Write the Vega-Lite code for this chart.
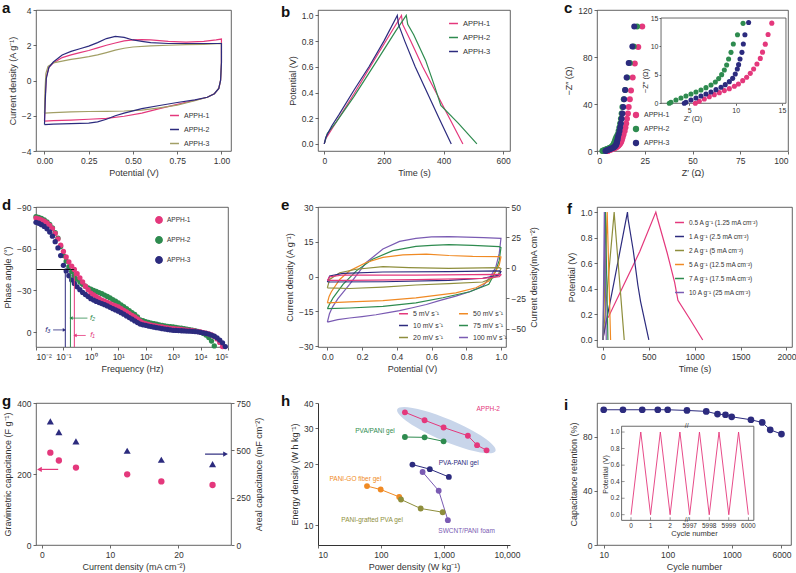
{
"$schema": "https://vega.github.io/schema/vega-lite/v6.json",
"background": "white",
"padding": {"left": 1, "top": 0, "right": 0, "bottom": 0},
"config": {
  "font": "Liberation Sans",
  "view": {"stroke": "#3c3c3c", "strokeWidth": 0.8},
  "axis": {"grid": false, "domain": false, "labelOverlap": false, "labelFontSize": 8.5, "titleFontSize": 9, "titleFontWeight": "normal", "labelColor": "#333", "titleColor": "#333", "tickColor": "#444", "tickSize": 3, "tickWidth": 0.8, "labelPadding": 2, "titlePadding": 4},
  "legend": {"labelFontSize": 7, "labelColor": "#333", "padding": 0, "rowPadding": 5, "labelOffset": 4, "symbolStrokeWidth": 1.5},
  "title": {"fontSize": 15, "fontWeight": "bold", "anchor": "start", "frame": "group", "color": "#111", "baseline": "alphabetic"}
},
"datasets": {
"a": [
{"s":"APPH-1","o":1,"v":0,"j":-2.3},{"s":"APPH-1","o":2,"v":0.004,"j":-1.0},{"s":"APPH-1","o":3,"v":0.01,"j":0.2},{"s":"APPH-1","o":4,"v":0.025,"j":0.75},{"s":"APPH-1","o":5,"v":0.05,"j":1.0},{"s":"APPH-1","o":6,"v":0.1,"j":1.3},{"s":"APPH-1","o":7,"v":0.15,"j":1.45},{"s":"APPH-1","o":8,"v":0.2,"j":1.58},{"s":"APPH-1","o":9,"v":0.25,"j":1.7},{"s":"APPH-1","o":10,"v":0.3,"j":1.85},{"s":"APPH-1","o":11,"v":0.35,"j":2.0},{"s":"APPH-1","o":12,"v":0.4,"j":2.13},{"s":"APPH-1","o":13,"v":0.45,"j":2.25},{"s":"APPH-1","o":14,"v":0.5,"j":2.3},{"s":"APPH-1","o":15,"v":0.55,"j":2.32},{"s":"APPH-1","o":16,"v":0.6,"j":2.3},{"s":"APPH-1","o":17,"v":0.7,"j":2.22},{"s":"APPH-1","o":18,"v":0.8,"j":2.18},{"s":"APPH-1","o":19,"v":0.9,"j":2.22},{"s":"APPH-1","o":20,"v":0.97,"j":2.3},{"s":"APPH-1","o":21,"v":1.0,"j":2.35},{"s":"APPH-1","o":22,"v":1.0,"j":1.0},{"s":"APPH-1","o":23,"v":0.995,"j":0},{"s":"APPH-1","o":24,"v":0.985,"j":-0.45},{"s":"APPH-1","o":25,"v":0.96,"j":-0.75},{"s":"APPH-1","o":26,"v":0.92,"j":-0.95},{"s":"APPH-1","o":27,"v":0.85,"j":-1.12},{"s":"APPH-1","o":28,"v":0.75,"j":-1.35},{"s":"APPH-1","o":29,"v":0.65,"j":-1.6},{"s":"APPH-1","o":30,"v":0.55,"j":-1.85},{"s":"APPH-1","o":31,"v":0.45,"j":-2.03},{"s":"APPH-1","o":32,"v":0.35,"j":-2.15},{"s":"APPH-1","o":33,"v":0.25,"j":-2.2},{"s":"APPH-1","o":34,"v":0.15,"j":-2.25},{"s":"APPH-1","o":35,"v":0.05,"j":-2.28},{"s":"APPH-1","o":36,"v":0,"j":-2.3},
{"s":"APPH-3","o":1,"v":0,"j":-1.85},{"s":"APPH-3","o":2,"v":0.003,"j":-0.5},{"s":"APPH-3","o":3,"v":0.008,"j":0.4},{"s":"APPH-3","o":4,"v":0.02,"j":0.8},{"s":"APPH-3","o":5,"v":0.05,"j":1.0},{"s":"APPH-3","o":6,"v":0.1,"j":1.1},{"s":"APPH-3","o":7,"v":0.15,"j":1.2},{"s":"APPH-3","o":8,"v":0.2,"j":1.27},{"s":"APPH-3","o":9,"v":0.25,"j":1.35},{"s":"APPH-3","o":10,"v":0.3,"j":1.45},{"s":"APPH-3","o":11,"v":0.35,"j":1.58},{"s":"APPH-3","o":12,"v":0.4,"j":1.72},{"s":"APPH-3","o":13,"v":0.45,"j":1.83},{"s":"APPH-3","o":14,"v":0.5,"j":1.9},{"s":"APPH-3","o":15,"v":0.6,"j":1.97},{"s":"APPH-3","o":16,"v":0.7,"j":2.0},{"s":"APPH-3","o":17,"v":0.8,"j":2.03},{"s":"APPH-3","o":18,"v":0.9,"j":2.05},{"s":"APPH-3","o":19,"v":1.0,"j":2.1},{"s":"APPH-3","o":20,"v":1.0,"j":1.0},{"s":"APPH-3","o":21,"v":0.995,"j":0},{"s":"APPH-3","o":22,"v":0.985,"j":-0.45},{"s":"APPH-3","o":23,"v":0.96,"j":-0.75},{"s":"APPH-3","o":24,"v":0.92,"j":-0.95},{"s":"APPH-3","o":25,"v":0.85,"j":-1.15},{"s":"APPH-3","o":26,"v":0.75,"j":-1.4},{"s":"APPH-3","o":27,"v":0.65,"j":-1.55},{"s":"APPH-3","o":28,"v":0.55,"j":-1.68},{"s":"APPH-3","o":29,"v":0.45,"j":-1.73},{"s":"APPH-3","o":30,"v":0.35,"j":-1.75},{"s":"APPH-3","o":31,"v":0.25,"j":-1.76},{"s":"APPH-3","o":32,"v":0.15,"j":-1.78},{"s":"APPH-3","o":33,"v":0.05,"j":-1.82},{"s":"APPH-3","o":34,"v":0,"j":-1.85},
{"s":"APPH-2","o":1,"v":0,"j":-2.5},{"s":"APPH-2","o":2,"v":0.004,"j":-1.2},{"s":"APPH-2","o":3,"v":0.01,"j":0.1},{"s":"APPH-2","o":4,"v":0.025,"j":0.75},{"s":"APPH-2","o":5,"v":0.05,"j":1.05},{"s":"APPH-2","o":6,"v":0.1,"j":1.45},{"s":"APPH-2","o":7,"v":0.15,"j":1.65},{"s":"APPH-2","o":8,"v":0.2,"j":1.8},{"s":"APPH-2","o":9,"v":0.25,"j":1.95},{"s":"APPH-2","o":10,"v":0.3,"j":2.15},{"s":"APPH-2","o":11,"v":0.35,"j":2.38},{"s":"APPH-2","o":12,"v":0.4,"j":2.5},{"s":"APPH-2","o":13,"v":0.45,"j":2.45},{"s":"APPH-2","o":14,"v":0.5,"j":2.3},{"s":"APPH-2","o":15,"v":0.55,"j":2.22},{"s":"APPH-2","o":16,"v":0.6,"j":2.15},{"s":"APPH-2","o":17,"v":0.7,"j":2.1},{"s":"APPH-2","o":18,"v":0.8,"j":2.1},{"s":"APPH-2","o":19,"v":0.9,"j":2.1},{"s":"APPH-2","o":20,"v":1.0,"j":2.1},{"s":"APPH-2","o":21,"v":1.0,"j":1.0},{"s":"APPH-2","o":22,"v":0.995,"j":0},{"s":"APPH-2","o":23,"v":0.985,"j":-0.45},{"s":"APPH-2","o":24,"v":0.96,"j":-0.75},{"s":"APPH-2","o":25,"v":0.92,"j":-0.95},{"s":"APPH-2","o":26,"v":0.85,"j":-1.1},{"s":"APPH-2","o":27,"v":0.75,"j":-1.25},{"s":"APPH-2","o":28,"v":0.65,"j":-1.42},{"s":"APPH-2","o":29,"v":0.55,"j":-1.6},{"s":"APPH-2","o":30,"v":0.45,"j":-1.85},{"s":"APPH-2","o":31,"v":0.4,"j":-2.0},{"s":"APPH-2","o":32,"v":0.35,"j":-2.2},{"s":"APPH-2","o":33,"v":0.3,"j":-2.35},{"s":"APPH-2","o":34,"v":0.25,"j":-2.42},{"s":"APPH-2","o":35,"v":0.15,"j":-2.45},{"s":"APPH-2","o":36,"v":0.05,"j":-2.48},{"s":"APPH-2","o":37,"v":0,"j":-2.5}
],
"b": [
{"s":"APPH-1","o":1,"t":0,"v":0},{"s":"APPH-1","o":2,"t":5,"v":0.04},{"s":"APPH-1","o":3,"t":100,"v":0.39},{"s":"APPH-1","o":4,"t":180,"v":0.7},{"s":"APPH-1","o":5,"t":259,"v":1.0},{"s":"APPH-1","o":6,"t":263,"v":0.93},{"s":"APPH-1","o":7,"t":290,"v":0.8},{"s":"APPH-1","o":8,"t":330,"v":0.6},{"s":"APPH-1","o":9,"t":375,"v":0.4},{"s":"APPH-1","o":10,"t":420,"v":0.2},{"s":"APPH-1","o":11,"t":465,"v":0},
{"s":"APPH-2","o":1,"t":0,"v":0},{"s":"APPH-2","o":2,"t":10,"v":0.08},{"s":"APPH-2","o":3,"t":40,"v":0.17},{"s":"APPH-2","o":4,"t":100,"v":0.37},{"s":"APPH-2","o":5,"t":180,"v":0.66},{"s":"APPH-2","o":6,"t":240,"v":0.88},{"s":"APPH-2","o":7,"t":275,"v":1.0},{"s":"APPH-2","o":8,"t":280,"v":0.93},{"s":"APPH-2","o":9,"t":300,"v":0.85},{"s":"APPH-2","o":10,"t":340,"v":0.65},{"s":"APPH-2","o":11,"t":370,"v":0.45},{"s":"APPH-2","o":12,"t":391,"v":0.3},{"s":"APPH-2","o":13,"t":450,"v":0.16},{"s":"APPH-2","o":14,"t":512,"v":0},
{"s":"APPH-3","o":1,"t":0,"v":0},{"s":"APPH-3","o":2,"t":5,"v":0.05},{"s":"APPH-3","o":3,"t":25,"v":0.14},{"s":"APPH-3","o":4,"t":50,"v":0.23},{"s":"APPH-3","o":5,"t":100,"v":0.42},{"s":"APPH-3","o":6,"t":150,"v":0.6},{"s":"APPH-3","o":7,"t":200,"v":0.8},{"s":"APPH-3","o":8,"t":245,"v":1.0},{"s":"APPH-3","o":9,"t":249,"v":0.93},{"s":"APPH-3","o":10,"t":270,"v":0.8},{"s":"APPH-3","o":11,"t":305,"v":0.6},{"s":"APPH-3","o":12,"t":345,"v":0.4},{"s":"APPH-3","o":13,"t":385,"v":0.2},{"s":"APPH-3","o":14,"t":426,"v":0}
],
"c": [
{"s":"APPH-1","x":5.65,"y":0},{"s":"APPH-1","x":6.08,"y":0.35},{"s":"APPH-1","x":6.62,"y":0.76},{"s":"APPH-1","x":7.16,"y":1.17},{"s":"APPH-1","x":7.7,"y":1.52},{"s":"APPH-1","x":8.24,"y":1.87},{"s":"APPH-1","x":8.78,"y":2.23},{"s":"APPH-1","x":9.32,"y":2.58},{"s":"APPH-1","x":9.86,"y":2.99},{"s":"APPH-1","x":10.3,"y":3.4},{"s":"APPH-1","x":10.76,"y":3.98},{"s":"APPH-1","x":11.19,"y":4.57},{"s":"APPH-1","x":11.58,"y":5.27},{"s":"APPH-1","x":11.94,"y":6.03},{"s":"APPH-1","x":12.3,"y":6.9},{"s":"APPH-1","x":12.66,"y":7.9},{"s":"APPH-1","x":12.9,"y":9.0},{"s":"APPH-1","x":13.2,"y":10.4},{"s":"APPH-1","x":13.5,"y":12.1},{"s":"APPH-1","x":13.9,"y":14.1},{"s":"APPH-1","x":14.5,"y":17},{"s":"APPH-1","x":14.9,"y":20},{"s":"APPH-1","x":15.3,"y":23.5},{"s":"APPH-1","x":15.7,"y":27.5},{"s":"APPH-1","x":16.2,"y":32},{"s":"APPH-1","x":16.6,"y":37.5},{"s":"APPH-1","x":17.2,"y":44},{"s":"APPH-1","x":17.8,"y":51.5},{"s":"APPH-1","x":18.7,"y":62.5},{"s":"APPH-1","x":19.8,"y":74.5},{"s":"APPH-1","x":21.6,"y":88.5},{"s":"APPH-1","x":23.7,"y":106},
{"s":"APPH-2","x":2.84,"y":0},{"s":"APPH-2","x":3.02,"y":0.18},{"s":"APPH-2","x":3.56,"y":0.59},{"s":"APPH-2","x":4.1,"y":0.94},{"s":"APPH-2","x":4.64,"y":1.29},{"s":"APPH-2","x":5.18,"y":1.64},{"s":"APPH-2","x":5.72,"y":1.99},{"s":"APPH-2","x":6.26,"y":2.34},{"s":"APPH-2","x":6.8,"y":2.75},{"s":"APPH-2","x":7.34,"y":3.22},{"s":"APPH-2","x":7.81,"y":3.75},{"s":"APPH-2","x":8.17,"y":4.34},{"s":"APPH-2","x":8.49,"y":5.04},{"s":"APPH-2","x":8.78,"y":5.86},{"s":"APPH-2","x":9.03,"y":6.74},{"s":"APPH-2","x":9.24,"y":7.79},{"s":"APPH-2","x":9.5,"y":8.96},{"s":"APPH-2","x":9.75,"y":10.43},{"s":"APPH-2","x":10.2,"y":12.07},{"s":"APPH-2","x":10.8,"y":14.06},{"s":"APPH-2","x":11.3,"y":17},{"s":"APPH-2","x":11.7,"y":20},{"s":"APPH-2","x":12.1,"y":23.5},{"s":"APPH-2","x":12.5,"y":27.5},{"s":"APPH-2","x":12.9,"y":32},{"s":"APPH-2","x":13.3,"y":37.5},{"s":"APPH-2","x":14.0,"y":44},{"s":"APPH-2","x":14.8,"y":52},{"s":"APPH-2","x":15.8,"y":62.5},{"s":"APPH-2","x":17.2,"y":75},{"s":"APPH-2","x":19.2,"y":89},{"s":"APPH-2","x":21.0,"y":106},
{"s":"APPH-3","x":4.46,"y":0},{"s":"APPH-3","x":4.64,"y":0.18},{"s":"APPH-3","x":5.18,"y":0.59},{"s":"APPH-3","x":5.72,"y":0.94},{"s":"APPH-3","x":6.26,"y":1.29},{"s":"APPH-3","x":6.8,"y":1.64},{"s":"APPH-3","x":7.34,"y":1.99},{"s":"APPH-3","x":7.88,"y":2.4},{"s":"APPH-3","x":8.42,"y":2.81},{"s":"APPH-3","x":8.88,"y":3.28},{"s":"APPH-3","x":9.32,"y":3.81},{"s":"APPH-3","x":9.68,"y":4.39},{"s":"APPH-3","x":9.96,"y":5.16},{"s":"APPH-3","x":10.18,"y":6.03},{"s":"APPH-3","x":10.32,"y":6.8},{"s":"APPH-3","x":10.47,"y":7.79},{"s":"APPH-3","x":10.68,"y":8.96},{"s":"APPH-3","x":10.83,"y":10.43},{"s":"APPH-3","x":11.0,"y":12.07},{"s":"APPH-3","x":11.4,"y":14.2},{"s":"APPH-3","x":11.8,"y":17},{"s":"APPH-3","x":12.1,"y":20},{"s":"APPH-3","x":12.5,"y":23.5},{"s":"APPH-3","x":12.9,"y":27.5},{"s":"APPH-3","x":13.3,"y":32},{"s":"APPH-3","x":13.7,"y":37.5},{"s":"APPH-3","x":14.2,"y":44},{"s":"APPH-3","x":14.7,"y":52},{"s":"APPH-3","x":15.5,"y":62.5},{"s":"APPH-3","x":16.6,"y":75},{"s":"APPH-3","x":18.5,"y":89},{"s":"APPH-3","x":19.5,"y":106}
],
"d": [
{"s":"APPH-2","f":0.01,"p":-83},{"s":"APPH-2","f":0.0126,"p":-82.5},{"s":"APPH-2","f":0.0158,"p":-81.8},{"s":"APPH-2","f":0.02,"p":-80.8},{"s":"APPH-2","f":0.0251,"p":-79.3},{"s":"APPH-2","f":0.0316,"p":-77.5},{"s":"APPH-2","f":0.0398,"p":-75},{"s":"APPH-2","f":0.0501,"p":-71.5},{"s":"APPH-2","f":0.0631,"p":-67.5},{"s":"APPH-2","f":0.0794,"p":-61.5},{"s":"APPH-2","f":0.1,"p":-55},{"s":"APPH-2","f":0.126,"p":-51},{"s":"APPH-2","f":0.158,"p":-47},{"s":"APPH-2","f":0.2,"p":-43.5},{"s":"APPH-2","f":0.251,"p":-40.5},{"s":"APPH-2","f":0.316,"p":-38},{"s":"APPH-2","f":0.398,"p":-36},{"s":"APPH-2","f":0.501,"p":-34.3},{"s":"APPH-2","f":0.631,"p":-33},{"s":"APPH-2","f":0.794,"p":-31.8},{"s":"APPH-2","f":1,"p":-30.8},{"s":"APPH-2","f":1.26,"p":-30},{"s":"APPH-2","f":1.58,"p":-29.2},{"s":"APPH-2","f":2,"p":-28.4},{"s":"APPH-2","f":2.51,"p":-27.6},{"s":"APPH-2","f":3.16,"p":-26.6},{"s":"APPH-2","f":3.98,"p":-25.6},{"s":"APPH-2","f":5.01,"p":-24.5},{"s":"APPH-2","f":6.31,"p":-23.3},{"s":"APPH-2","f":7.94,"p":-22.2},{"s":"APPH-2","f":10,"p":-21},{"s":"APPH-2","f":12.6,"p":-19.6},{"s":"APPH-2","f":15.8,"p":-18.2},{"s":"APPH-2","f":20,"p":-16.8},{"s":"APPH-2","f":25.1,"p":-15.4},{"s":"APPH-2","f":31.6,"p":-14},{"s":"APPH-2","f":39.8,"p":-12.6},{"s":"APPH-2","f":50.1,"p":-10.8},{"s":"APPH-2","f":63.1,"p":-8.8},{"s":"APPH-2","f":79.4,"p":-8.1},{"s":"APPH-2","f":100,"p":-7.5},{"s":"APPH-2","f":126,"p":-6.9},{"s":"APPH-2","f":158,"p":-6.4},{"s":"APPH-2","f":200,"p":-6},{"s":"APPH-2","f":251,"p":-5.6},{"s":"APPH-2","f":316,"p":-5.2},{"s":"APPH-2","f":398,"p":-4.8},{"s":"APPH-2","f":501,"p":-4.4},{"s":"APPH-2","f":631,"p":-4.1},{"s":"APPH-2","f":794,"p":-3.8},{"s":"APPH-2","f":1000,"p":-3.6},{"s":"APPH-2","f":1260,"p":-3.3},{"s":"APPH-2","f":1580,"p":-3},{"s":"APPH-2","f":2000,"p":-2.7},{"s":"APPH-2","f":2510,"p":-2.4},{"s":"APPH-2","f":3160,"p":-2.1},{"s":"APPH-2","f":3980,"p":-1.7},{"s":"APPH-2","f":5010,"p":-1.3},{"s":"APPH-2","f":6310,"p":-0.9},{"s":"APPH-2","f":7940,"p":-0.4},{"s":"APPH-2","f":10000,"p":0.2},{"s":"APPH-2","f":12600,"p":1},{"s":"APPH-2","f":15800,"p":2.2},{"s":"APPH-2","f":20000,"p":4},{"s":"APPH-2","f":25100,"p":6.5},{"s":"APPH-2","f":31600,"p":10},
{"s":"APPH-1","f":0.01,"p":-82},{"s":"APPH-1","f":0.0126,"p":-81.5},{"s":"APPH-1","f":0.0158,"p":-80.8},{"s":"APPH-1","f":0.02,"p":-79.8},{"s":"APPH-1","f":0.0251,"p":-78.5},{"s":"APPH-1","f":0.0316,"p":-76.8},{"s":"APPH-1","f":0.0398,"p":-74.5},{"s":"APPH-1","f":0.0501,"p":-71},{"s":"APPH-1","f":0.0631,"p":-67},{"s":"APPH-1","f":0.0794,"p":-62.5},{"s":"APPH-1","f":0.1,"p":-58},{"s":"APPH-1","f":0.126,"p":-54},{"s":"APPH-1","f":0.158,"p":-50.5},{"s":"APPH-1","f":0.2,"p":-47.5},{"s":"APPH-1","f":0.251,"p":-45},{"s":"APPH-1","f":0.316,"p":-42},{"s":"APPH-1","f":0.398,"p":-39},{"s":"APPH-1","f":0.501,"p":-36},{"s":"APPH-1","f":0.631,"p":-33},{"s":"APPH-1","f":0.794,"p":-30.5},{"s":"APPH-1","f":1,"p":-28},{"s":"APPH-1","f":1.26,"p":-26.8},{"s":"APPH-1","f":1.58,"p":-25.5},{"s":"APPH-1","f":2,"p":-24.2},{"s":"APPH-1","f":2.51,"p":-23},{"s":"APPH-1","f":3.16,"p":-22.2},{"s":"APPH-1","f":3.98,"p":-21.4},{"s":"APPH-1","f":5.01,"p":-20.5},{"s":"APPH-1","f":6.31,"p":-19.6},{"s":"APPH-1","f":7.94,"p":-18.8},{"s":"APPH-1","f":10,"p":-18},{"s":"APPH-1","f":12.6,"p":-16.8},{"s":"APPH-1","f":15.8,"p":-15.6},{"s":"APPH-1","f":20,"p":-14.4},{"s":"APPH-1","f":25.1,"p":-13.2},{"s":"APPH-1","f":31.6,"p":-12},{"s":"APPH-1","f":39.8,"p":-10.8},{"s":"APPH-1","f":50.1,"p":-9.4},{"s":"APPH-1","f":63.1,"p":-7.8},{"s":"APPH-1","f":79.4,"p":-6.6},{"s":"APPH-1","f":100,"p":-6},{"s":"APPH-1","f":126,"p":-5.5},{"s":"APPH-1","f":158,"p":-5},{"s":"APPH-1","f":200,"p":-4.6},{"s":"APPH-1","f":251,"p":-4.2},{"s":"APPH-1","f":316,"p":-3.9},{"s":"APPH-1","f":398,"p":-3.6},{"s":"APPH-1","f":501,"p":-3.2},{"s":"APPH-1","f":631,"p":-2.9},{"s":"APPH-1","f":794,"p":-2.6},{"s":"APPH-1","f":1000,"p":-2.4},{"s":"APPH-1","f":1260,"p":-2.2},{"s":"APPH-1","f":1580,"p":-2},{"s":"APPH-1","f":2000,"p":-1.8},{"s":"APPH-1","f":2510,"p":-1.6},{"s":"APPH-1","f":3160,"p":-1.4},{"s":"APPH-1","f":3980,"p":-1.1},{"s":"APPH-1","f":5010,"p":-0.9},{"s":"APPH-1","f":6310,"p":-0.6},{"s":"APPH-1","f":7940,"p":-0.3},{"s":"APPH-1","f":10000,"p":0},{"s":"APPH-1","f":12600,"p":0.4},{"s":"APPH-1","f":15800,"p":0.9},{"s":"APPH-1","f":20000,"p":1.4},{"s":"APPH-1","f":25100,"p":2},{"s":"APPH-1","f":31600,"p":3.2},{"s":"APPH-1","f":39800,"p":5},{"s":"APPH-1","f":50100,"p":7.5},{"s":"APPH-1","f":63100,"p":10.5},
{"s":"APPH-3","f":0.01,"p":-79},{"s":"APPH-3","f":0.0126,"p":-78.3},{"s":"APPH-3","f":0.0158,"p":-77.3},{"s":"APPH-3","f":0.02,"p":-76},{"s":"APPH-3","f":0.0251,"p":-74.3},{"s":"APPH-3","f":0.0316,"p":-72},{"s":"APPH-3","f":0.0398,"p":-69},{"s":"APPH-3","f":0.0501,"p":-65},{"s":"APPH-3","f":0.0631,"p":-60.5},{"s":"APPH-3","f":0.0794,"p":-55},{"s":"APPH-3","f":0.1,"p":-48},{"s":"APPH-3","f":0.126,"p":-44},{"s":"APPH-3","f":0.158,"p":-40.5},{"s":"APPH-3","f":0.2,"p":-37.5},{"s":"APPH-3","f":0.251,"p":-35},{"s":"APPH-3","f":0.316,"p":-32.5},{"s":"APPH-3","f":0.398,"p":-30.5},{"s":"APPH-3","f":0.501,"p":-28.5},{"s":"APPH-3","f":0.631,"p":-27},{"s":"APPH-3","f":0.794,"p":-25.5},{"s":"APPH-3","f":1,"p":-24},{"s":"APPH-3","f":1.26,"p":-23},{"s":"APPH-3","f":1.58,"p":-22},{"s":"APPH-3","f":2,"p":-21.2},{"s":"APPH-3","f":2.51,"p":-20.5},{"s":"APPH-3","f":3.16,"p":-19.7},{"s":"APPH-3","f":3.98,"p":-18.8},{"s":"APPH-3","f":5.01,"p":-17.8},{"s":"APPH-3","f":6.31,"p":-16.8},{"s":"APPH-3","f":7.94,"p":-15.9},{"s":"APPH-3","f":10,"p":-15},{"s":"APPH-3","f":12.6,"p":-13.9},{"s":"APPH-3","f":15.8,"p":-12.8},{"s":"APPH-3","f":20,"p":-11.6},{"s":"APPH-3","f":25.1,"p":-10.4},{"s":"APPH-3","f":31.6,"p":-9.2},{"s":"APPH-3","f":39.8,"p":-8},{"s":"APPH-3","f":50.1,"p":-6.8},{"s":"APPH-3","f":63.1,"p":-5.7},{"s":"APPH-3","f":79.4,"p":-5.2},{"s":"APPH-3","f":100,"p":-4.8},{"s":"APPH-3","f":126,"p":-4.3},{"s":"APPH-3","f":158,"p":-3.9},{"s":"APPH-3","f":200,"p":-3.5},{"s":"APPH-3","f":251,"p":-3.1},{"s":"APPH-3","f":316,"p":-2.8},{"s":"APPH-3","f":398,"p":-2.4},{"s":"APPH-3","f":501,"p":-2.1},{"s":"APPH-3","f":631,"p":-1.8},{"s":"APPH-3","f":794,"p":-1.5},{"s":"APPH-3","f":1000,"p":-1.2},{"s":"APPH-3","f":1260,"p":-1.1},{"s":"APPH-3","f":1580,"p":-1},{"s":"APPH-3","f":2000,"p":-0.9},{"s":"APPH-3","f":2510,"p":-0.8},{"s":"APPH-3","f":3160,"p":-0.7},{"s":"APPH-3","f":3980,"p":-0.6},{"s":"APPH-3","f":5010,"p":-0.5},{"s":"APPH-3","f":6310,"p":-0.3},{"s":"APPH-3","f":7940,"p":-0.1},{"s":"APPH-3","f":10000,"p":0.2},{"s":"APPH-3","f":12600,"p":0.6},{"s":"APPH-3","f":15800,"p":1},{"s":"APPH-3","f":20000,"p":1.5},{"s":"APPH-3","f":25100,"p":2.2},{"s":"APPH-3","f":31600,"p":3},{"s":"APPH-3","f":39800,"p":4.2},{"s":"APPH-3","f":50100,"p":5.8},{"s":"APPH-3","f":63100,"p":7.8},{"s":"APPH-3","f":79400,"p":10.5}
],
"dv": [
{"s":"APPH-3","f":0.117,"p1":-45,"p2":10.8},{"s":"APPH-2","f":0.18,"p1":-45,"p2":10.8},{"s":"APPH-1","f":0.25,"p1":-45,"p2":10.8}
],
"da": [
{"s":"APPH-3","t":"f₃","fl":0.027,"f1":0.042,"f2":0.108,"p":-1.5},
{"s":"APPH-2","t":"f₂","fl":1.15,"f1":0.75,"f2":0.19,"p":-10},
{"s":"APPH-1","t":"f₁","fl":1.15,"f1":0.65,"f2":0.265,"p":2.5}
],
"e": [
{"s":"100 mV s⁻¹","o":1,"v":0,"j":-19.6},{"s":"100 mV s⁻¹","o":2,"v":0.012,"j":-16},{"s":"100 mV s⁻¹","o":3,"v":0.03,"j":-13},{"s":"100 mV s⁻¹","o":4,"v":0.061,"j":-9.5},{"s":"100 mV s⁻¹","o":5,"v":0.128,"j":-3.3},{"s":"100 mV s⁻¹","o":6,"v":0.224,"j":6.1},{"s":"100 mV s⁻¹","o":7,"v":0.32,"j":11.9},{"s":"100 mV s⁻¹","o":8,"v":0.416,"j":15.2},{"s":"100 mV s⁻¹","o":9,"v":0.51,"j":16.5},{"s":"100 mV s⁻¹","o":10,"v":0.6,"j":17.1},{"s":"100 mV s⁻¹","o":11,"v":0.7,"j":17.2},{"s":"100 mV s⁻¹","o":12,"v":0.8,"j":17},{"s":"100 mV s⁻¹","o":13,"v":0.9,"j":16.8},{"s":"100 mV s⁻¹","o":14,"v":1.0,"j":16.5},{"s":"100 mV s⁻¹","o":15,"v":0.99,"j":10},{"s":"100 mV s⁻¹","o":16,"v":0.97,"j":4},{"s":"100 mV s⁻¹","o":17,"v":0.94,"j":0},{"s":"100 mV s⁻¹","o":18,"v":0.895,"j":-4.1},{"s":"100 mV s⁻¹","o":19,"v":0.82,"j":-6.5},{"s":"100 mV s⁻¹","o":20,"v":0.74,"j":-8.4},{"s":"100 mV s⁻¹","o":21,"v":0.65,"j":-10.2},{"s":"100 mV s⁻¹","o":22,"v":0.57,"j":-12},{"s":"100 mV s⁻¹","o":23,"v":0.49,"j":-13.4},{"s":"100 mV s⁻¹","o":24,"v":0.416,"j":-14.6},{"s":"100 mV s⁻¹","o":25,"v":0.35,"j":-15.5},{"s":"100 mV s⁻¹","o":26,"v":0.28,"j":-16.4},{"s":"100 mV s⁻¹","o":27,"v":0.2,"j":-17.2},{"s":"100 mV s⁻¹","o":28,"v":0.128,"j":-17.8},{"s":"100 mV s⁻¹","o":29,"v":0.06,"j":-18.5},{"s":"100 mV s⁻¹","o":30,"v":0,"j":-19.6},
{"s":"75 mV s⁻¹","o":1,"v":0,"j":-13.8},{"s":"75 mV s⁻¹","o":2,"v":0.015,"j":-11.5},{"s":"75 mV s⁻¹","o":3,"v":0.033,"j":-9.1},{"s":"75 mV s⁻¹","o":4,"v":0.09,"j":-3.3},{"s":"75 mV s⁻¹","o":5,"v":0.167,"j":2.5},{"s":"75 mV s⁻¹","o":6,"v":0.26,"j":7.5},{"s":"75 mV s⁻¹","o":7,"v":0.377,"j":11.2},{"s":"75 mV s⁻¹","o":8,"v":0.51,"j":13},{"s":"75 mV s⁻¹","o":9,"v":0.6,"j":13.5},{"s":"75 mV s⁻¹","o":10,"v":0.7,"j":13.8},{"s":"75 mV s⁻¹","o":11,"v":0.837,"j":13.5},{"s":"75 mV s⁻¹","o":12,"v":0.99,"j":12.9},{"s":"75 mV s⁻¹","o":13,"v":1.0,"j":12.5},{"s":"75 mV s⁻¹","o":14,"v":0.99,"j":7},{"s":"75 mV s⁻¹","o":15,"v":0.97,"j":2.5},{"s":"75 mV s⁻¹","o":16,"v":0.95,"j":-0.5},{"s":"75 mV s⁻¹","o":17,"v":0.93,"j":-3.3},{"s":"75 mV s⁻¹","o":18,"v":0.82,"j":-6.5},{"s":"75 mV s⁻¹","o":19,"v":0.665,"j":-9.1},{"s":"75 mV s⁻¹","o":20,"v":0.51,"j":-11.3},{"s":"75 mV s⁻¹","o":21,"v":0.32,"j":-12.8},{"s":"75 mV s⁻¹","o":22,"v":0.128,"j":-13.5},{"s":"75 mV s⁻¹","o":23,"v":0,"j":-13.8},
{"s":"50 mV s⁻¹","o":1,"v":0,"j":-11.3},{"s":"50 mV s⁻¹","o":2,"v":0.01,"j":-8.5},{"s":"50 mV s⁻¹","o":3,"v":0.023,"j":-6.5},{"s":"50 mV s⁻¹","o":4,"v":0.071,"j":-1.2},{"s":"50 mV s⁻¹","o":5,"v":0.128,"j":2.5},{"s":"50 mV s⁻¹","o":6,"v":0.224,"j":6.1},{"s":"50 mV s⁻¹","o":7,"v":0.32,"j":8.3},{"s":"50 mV s⁻¹","o":8,"v":0.435,"j":9.4},{"s":"50 mV s⁻¹","o":9,"v":0.57,"j":9.7},{"s":"50 mV s⁻¹","o":10,"v":0.7,"j":9.1},{"s":"50 mV s⁻¹","o":11,"v":0.837,"j":8.7},{"s":"50 mV s⁻¹","o":12,"v":0.99,"j":8.6},{"s":"50 mV s⁻¹","o":13,"v":1.0,"j":8.5},{"s":"50 mV s⁻¹","o":14,"v":0.99,"j":5},{"s":"50 mV s⁻¹","o":15,"v":0.97,"j":2.5},{"s":"50 mV s⁻¹","o":16,"v":0.93,"j":-1.9},{"s":"50 mV s⁻¹","o":17,"v":0.856,"j":-4.8},{"s":"50 mV s⁻¹","o":18,"v":0.74,"j":-7},{"s":"50 mV s⁻¹","o":19,"v":0.51,"j":-9.1},{"s":"50 mV s⁻¹","o":20,"v":0.32,"j":-10.3},{"s":"50 mV s⁻¹","o":21,"v":0.128,"j":-10.9},{"s":"50 mV s⁻¹","o":22,"v":0,"j":-11.3},
{"s":"20 mV s⁻¹","o":1,"v":0,"j":-4.8},{"s":"20 mV s⁻¹","o":2,"v":0.013,"j":-1.2},{"s":"20 mV s⁻¹","o":3,"v":0.071,"j":1.7},{"s":"20 mV s⁻¹","o":4,"v":0.167,"j":3.2},{"s":"20 mV s⁻¹","o":5,"v":0.32,"j":4.3},{"s":"20 mV s⁻¹","o":6,"v":0.47,"j":3.9},{"s":"20 mV s⁻¹","o":7,"v":0.7,"j":3.6},{"s":"20 mV s⁻¹","o":8,"v":0.99,"j":3.9},{"s":"20 mV s⁻¹","o":9,"v":1.0,"j":3.5},{"s":"20 mV s⁻¹","o":10,"v":0.98,"j":0.3},{"s":"20 mV s⁻¹","o":11,"v":0.895,"j":-2.3},{"s":"20 mV s⁻¹","o":12,"v":0.7,"j":-3},{"s":"20 mV s⁻¹","o":13,"v":0.51,"j":-3.6},{"s":"20 mV s⁻¹","o":14,"v":0.32,"j":-4.5},{"s":"20 mV s⁻¹","o":15,"v":0.128,"j":-5.1},{"s":"20 mV s⁻¹","o":16,"v":0,"j":-4.8},
{"s":"10 mV s⁻¹","o":1,"v":0,"j":-2.3},{"s":"10 mV s⁻¹","o":2,"v":0.013,"j":0.3},{"s":"10 mV s⁻¹","o":3,"v":0.09,"j":1.4},{"s":"10 mV s⁻¹","o":4,"v":0.32,"j":2},{"s":"10 mV s⁻¹","o":5,"v":0.7,"j":2.2},{"s":"10 mV s⁻¹","o":6,"v":0.99,"j":2.5},{"s":"10 mV s⁻¹","o":7,"v":1.0,"j":2.2},{"s":"10 mV s⁻¹","o":8,"v":0.99,"j":0.7},{"s":"10 mV s⁻¹","o":9,"v":0.895,"j":-0.7},{"s":"10 mV s⁻¹","o":10,"v":0.7,"j":-1.6},{"s":"10 mV s⁻¹","o":11,"v":0.32,"j":-2.2},{"s":"10 mV s⁻¹","o":12,"v":0,"j":-2.3},
{"s":"5 mV s⁻¹","o":1,"v":0,"j":-1.6},{"s":"5 mV s⁻¹","o":2,"v":0.013,"j":-0.1},{"s":"5 mV s⁻¹","o":3,"v":0.09,"j":0.7},{"s":"5 mV s⁻¹","o":4,"v":0.51,"j":0.7},{"s":"5 mV s⁻¹","o":5,"v":0.99,"j":1},{"s":"5 mV s⁻¹","o":6,"v":1.0,"j":0.8},{"s":"5 mV s⁻¹","o":7,"v":0.99,"j":0},{"s":"5 mV s⁻¹","o":8,"v":0.895,"j":-0.7},{"s":"5 mV s⁻¹","o":9,"v":0.51,"j":-1.3},{"s":"5 mV s⁻¹","o":10,"v":0.128,"j":-1.6},{"s":"5 mV s⁻¹","o":11,"v":0,"j":-1.6}
],
"f": [
{"s":"0.5 A g⁻¹ (1.25 mA cm⁻²)","o":1,"t":0,"v":0},{"s":"0.5 A g⁻¹ (1.25 mA cm⁻²)","o":2,"t":20,"v":0.1},{"s":"0.5 A g⁻¹ (1.25 mA cm⁻²)","o":3,"t":45,"v":0.17},{"s":"0.5 A g⁻¹ (1.25 mA cm⁻²)","o":4,"t":60,"v":0.18},{"s":"0.5 A g⁻¹ (1.25 mA cm⁻²)","o":5,"t":200,"v":0.39},{"s":"0.5 A g⁻¹ (1.25 mA cm⁻²)","o":6,"t":400,"v":0.69},{"s":"0.5 A g⁻¹ (1.25 mA cm⁻²)","o":7,"t":576,"v":1},{"s":"0.5 A g⁻¹ (1.25 mA cm⁻²)","o":8,"t":590,"v":0.96},{"s":"0.5 A g⁻¹ (1.25 mA cm⁻²)","o":9,"t":700,"v":0.68},{"s":"0.5 A g⁻¹ (1.25 mA cm⁻²)","o":10,"t":781,"v":0.45},{"s":"0.5 A g⁻¹ (1.25 mA cm⁻²)","o":11,"t":817,"v":0.31},{"s":"0.5 A g⁻¹ (1.25 mA cm⁻²)","o":12,"t":950,"v":0.16},{"s":"0.5 A g⁻¹ (1.25 mA cm⁻²)","o":13,"t":1087,"v":0},
{"s":"1 A g⁻¹ (2.5 mA cm⁻²)","o":1,"t":0,"v":0},{"s":"1 A g⁻¹ (2.5 mA cm⁻²)","o":2,"t":5,"v":0.03},{"s":"1 A g⁻¹ (2.5 mA cm⁻²)","o":3,"t":120,"v":0.45},{"s":"1 A g⁻¹ (2.5 mA cm⁻²)","o":4,"t":267,"v":1},{"s":"1 A g⁻¹ (2.5 mA cm⁻²)","o":5,"t":273,"v":0.95},{"s":"1 A g⁻¹ (2.5 mA cm⁻²)","o":6,"t":330,"v":0.7},{"s":"1 A g⁻¹ (2.5 mA cm⁻²)","o":7,"t":380,"v":0.43},{"s":"1 A g⁻¹ (2.5 mA cm⁻²)","o":8,"t":410,"v":0.3},{"s":"1 A g⁻¹ (2.5 mA cm⁻²)","o":9,"t":500,"v":0},
{"s":"2 A g⁻¹ (5 mA cm⁻²)","o":1,"t":0,"v":0},{"s":"2 A g⁻¹ (5 mA cm⁻²)","o":2,"t":5,"v":0.05},{"s":"2 A g⁻¹ (5 mA cm⁻²)","o":3,"t":122,"v":1},{"s":"2 A g⁻¹ (5 mA cm⁻²)","o":4,"t":127,"v":0.95},{"s":"2 A g⁻¹ (5 mA cm⁻²)","o":5,"t":232,"v":0},
{"s":"5 A g⁻¹ (12.5 mA cm⁻²)","o":1,"t":0,"v":0},{"s":"5 A g⁻¹ (12.5 mA cm⁻²)","o":2,"t":46,"v":1},{"s":"5 A g⁻¹ (12.5 mA cm⁻²)","o":3,"t":83,"v":0},
{"s":"7 A g⁻¹ (17.5 mA cm⁻²)","o":1,"t":0,"v":0},{"s":"7 A g⁻¹ (17.5 mA cm⁻²)","o":2,"t":27,"v":1},{"s":"7 A g⁻¹ (17.5 mA cm⁻²)","o":3,"t":54,"v":0},
{"s":"10 A g⁻¹ (25 mA cm⁻²)","o":1,"t":0,"v":0},{"s":"10 A g⁻¹ (25 mA cm⁻²)","o":2,"t":15,"v":1},{"s":"10 A g⁻¹ (25 mA cm⁻²)","o":3,"t":36,"v":0}
],
"g1": [{"cd":1.25,"c":260},{"cd":2.5,"c":238},{"cd":5,"c":218},{"cd":12.5,"c":199},{"cd":17.5,"c":179},{"cd":25,"c":169}],
"g2": [{"cd":1.25,"a":653},{"cd":2.5,"a":596},{"cd":5,"a":547},{"cd":12.5,"a":498},{"cd":17.5,"a":450},{"cd":25,"a":427}],
"ga": [{"k":"grav","x1":-0.35,"x2":2.4,"y":213},{"k":"areal","x1":26.9,"x2":23.9,"y":256}],
"h": [
{"s":"APPH-2","p":240,"e":36},{"s":"APPH-2","p":493,"e":32.9},{"s":"APPH-2","p":988,"e":30.3},{"s":"APPH-2","p":2400,"e":27.6},{"s":"APPH-2","p":3357,"e":24.8},{"s":"APPH-2","p":4753,"e":23.4},
{"s":"PVA/PANI gel","p":240,"e":27.2},{"s":"PVA/PANI gel","p":493,"e":27.1},{"s":"PVA/PANI gel","p":988,"e":25.9},
{"s":"PVA-PANI gel","p":316,"e":19.9},{"s":"PVA-PANI gel","p":597,"e":18.9},{"s":"PVA-PANI gel","p":1197,"e":17.3},
{"s":"PANI-GO fiber gel","p":60,"e":15.6},{"s":"PANI-GO fiber gel","p":99,"e":15},{"s":"PANI-GO fiber gel","p":195,"e":13.8},
{"s":"PANI-grafted PVA gel","p":208,"e":13.4},{"s":"PANI-grafted PVA gel","p":427,"e":12.1},{"s":"PANI-grafted PVA gel","p":955,"e":11.6},
{"s":"SWCNT/PANI foam","p":458,"e":18.3},{"s":"SWCNT/PANI foam","p":826,"e":14.8},{"s":"SWCNT/PANI foam","p":1155,"e":10.6}
],
"hl": [
{"s":"APPH-2","p":5050,"e":37.5},{"s":"PVA/PANI gel","p":80.5,"e":29.2},{"s":"PVA-PANI gel","p":1714,"e":20.3},{"s":"PANI-GO fiber gel","p":39.3,"e":16.9},{"s":"PANI-grafted PVA gel","p":72.3,"e":10.6},{"s":"SWCNT/PANI foam","p":2290,"e":9.34}
],
"i": [
{"n":10,"r":100},{"n":20,"r":100},{"n":40,"r":100},{"n":70,"r":100},{"n":100,"r":100},{"n":200,"r":99.5},{"n":400,"r":98.8},{"n":600,"r":96.8},{"n":800,"r":96.3},{"n":1000,"r":94.8},{"n":2000,"r":92.6},{"n":3000,"r":90.6},{"n":4000,"r":85.2},{"n":6000,"r":82}
],
"ii": [
{"c":0,"v":0},{"c":0.5,"v":1},{"c":1,"v":0},{"c":1.5,"v":1},{"c":2,"v":0},{"c":2.5,"v":1},{"c":5997,"v":0},{"c":5997.5,"v":1},{"c":5998,"v":0},{"c":5998.5,"v":1},{"c":5999,"v":0},{"c":5999.5,"v":1},{"c":6000,"v":0}
],
"ixt": [{"c":0},{"c":1},{"c":2},{"c":5997},{"c":5998},{"c":5999},{"c":6000}],
"iyt": [{"v":0},{"v":0.2},{"v":0.4},{"v":0.6},{"v":0.8},{"v":1}]
},
"columns": 3,
"spacing": {"row": 56, "column": 87},
"bounds": "flush",
"resolve": {"scale": {"color": "independent", "shape": "independent"}, "legend": {"color": "independent", "shape": "independent"}},
"concat": [
  {
   "title": {"text": "a", "dx": -34, "dy": 10, "offset": 0},
   "width": 195, "height": 141,
   "data": {"name": "a"},
   "mark": {"type": "line", "strokeWidth": 1.2},
   "encoding": {
    "x": {"field": "v", "type": "quantitative", "scale": {"domain": [-0.048, 1.054], "nice": false, "zero": false}, "axis": {"values": [0, 0.25, 0.5, 0.75, 1], "format": ".2f", "title": "Potential (V)"}},
    "y": {"field": "j", "type": "quantitative", "scale": {"domain": [-4, 4], "nice": false}, "axis": {"values": [-4, -2, 0, 2, 4], "title": "Current density (A g⁻¹)"}},
    "color": {"field": "s", "type": "nominal", "scale": {"domain": ["APPH-1", "APPH-2", "APPH-3"], "range": ["#e4387c", "#2c2b7e", "#a29f66"]}, "legend": {"orient": "none", "legendX": 133, "legendY": 100, "title": null, "symbolType": "stroke", "symbolSize": 80}},
    "order": {"field": "o"}
   }
  },
  {
   "title": {"text": "b", "dx": -37, "dy": 10, "offset": 0},
   "width": 192, "height": 141,
   "data": {"name": "b"},
   "mark": {"type": "line", "strokeWidth": 1.2},
   "encoding": {
    "x": {"field": "t", "type": "quantitative", "scale": {"domain": [-21, 623], "nice": false, "zero": false}, "axis": {"values": [0, 200, 400, 600], "title": "Time (s)"}},
    "y": {"field": "v", "type": "quantitative", "scale": {"domain": [-0.055, 1.042], "nice": false, "zero": false}, "axis": {"values": [0, 0.2, 0.4, 0.6, 0.8, 1], "format": ".1f", "title": "Potential (V)"}},
    "color": {"field": "s", "type": "nominal", "scale": {"domain": ["APPH-1", "APPH-2", "APPH-3"], "range": ["#e4387c", "#2e8b4f", "#2c2b7e"]}, "legend": {"orient": "none", "legendX": 130, "legendY": 8, "title": null, "symbolType": "stroke", "symbolSize": 80, "labelFontSize": 7.5}},
    "order": {"field": "o"}
   }
  },
  {
   "title": {"text": "c", "dx": -33, "dy": 10, "offset": 0},
   "width": 191, "height": 141,
   "layer": [
    {
     "data": {"name": "c"},
     "mark": {"type": "circle", "size": 36, "opacity": 1},
     "encoding": {
      "x": {"field": "x", "type": "quantitative", "scale": {"domain": [0, 100], "nice": false}, "axis": {"values": [0, 25, 50, 75, 100], "title": "Z′ (Ω)"}},
      "y": {"field": "y", "type": "quantitative", "scale": {"domain": [0, 120], "nice": false}, "axis": {"values": [0, 40, 80, 120], "title": "−Z″ (Ω)"}},
      "color": {"field": "s", "type": "nominal", "scale": {"domain": ["APPH-1", "APPH-2", "APPH-3"], "range": ["#e4387c", "#2e8b4f", "#2c2b7e"]}, "legend": {"orient": "none", "legendX": 35, "legendY": 101, "title": null, "symbolType": "circle", "symbolSize": 40, "rowPadding": 6}}
     }
    },
    {
     "layer": [
      {
       "data": {"values": [{}]},
       "mark": {"type": "rect", "fill": "white", "stroke": "#444", "strokeWidth": 0.8},
       "encoding": {
        "x": {"datum": 1.95, "type": "quantitative", "scale": {"domain": [-4.96, 15.65], "nice": false, "zero": false}, "axis": {"orient": "bottom", "offset": -47.7, "values": [5, 10, 15], "title": "Z′ (Ω)", "tickSize": 2, "labelFontSize": 7, "titleFontSize": 7.5, "titlePadding": 1, "labelPadding": 1}},
        "x2": {"datum": 15.43},
        "y": {"datum": 0, "type": "quantitative", "scale": {"domain": [-8.39, 16.41], "nice": false, "zero": false}, "axis": {"orient": "left", "offset": -64, "values": [0, 5, 10, 15], "title": "−Z″ (Ω)", "tickSize": 2, "labelFontSize": 7, "titleFontSize": 7.5, "titlePadding": 1, "labelPadding": 1}},
        "y2": {"datum": 15}
       }
      },
      {
       "data": {"name": "c"},
       "transform": [{"filter": "datum.y <= 15"}],
       "mark": {"type": "circle", "size": 26, "opacity": 1},
       "encoding": {
        "x": {"field": "x", "type": "quantitative"},
        "y": {"field": "y", "type": "quantitative"},
        "color": {"field": "s", "type": "nominal", "legend": null}
       }
      }
     ]
    }
   ],
   "resolve": {"scale": {"x": "independent", "y": "independent"}}
  },
  {
   "title": {"text": "d", "dx": -34, "dy": 10, "offset": 0},
   "width": 192, "height": 140,
   "layer": [
    {
     "data": {"name": "d"},
     "mark": {"type": "circle", "size": 28, "opacity": 1},
     "encoding": {
      "x": {"field": "f", "type": "quantitative", "scale": {"type": "log", "domain": [0.01, 100000], "nice": false}, "axis": {"values": [0.01, 0.1, 1, 10, 100, 1000, 10000, 100000], "labelExpr": "datum.value < 0.05 ? '10⁻²' : datum.value < 0.5 ? '10⁻¹' : datum.value < 5 ? '10⁰' : datum.value < 50 ? '10¹' : datum.value < 500 ? '10²' : datum.value < 5000 ? '10³' : datum.value < 50000 ? '10⁴' : '10⁵'", "title": "Frequency (Hz)"}},
      "y": {"field": "p", "type": "quantitative", "scale": {"domain": [-90, 10.8], "reverse": true, "nice": false, "zero": false}, "axis": {"values": [-90, -60, -30, 0], "title": "Phase angle (°)"}},
      "color": {"field": "s", "type": "nominal", "scale": {"domain": ["APPH-1", "APPH-2", "APPH-3"], "range": ["#e4387c", "#2e8b4f", "#2c2b7e"]}, "legend": {"orient": "none", "legendX": 119, "legendY": 9, "title": null, "symbolType": "circle", "symbolSize": 40, "rowPadding": 6, "labelFontSize": 6.5}}
     }
    },
    {
     "data": {"values": [{}]},
     "mark": {"type": "rule", "color": "#111", "strokeWidth": 1},
     "encoding": {"x": {"datum": 0.0105, "type": "quantitative"}, "x2": {"datum": 0.25}, "y": {"datum": -45, "type": "quantitative"}}
    },
    {
     "data": {"name": "dv"},
     "mark": {"type": "rule", "strokeWidth": 1},
     "encoding": {"x": {"field": "f", "type": "quantitative"}, "y": {"field": "p1", "type": "quantitative"}, "y2": {"field": "p2"}, "color": {"field": "s", "type": "nominal", "legend": null}}
    },
    {
     "data": {"name": "da"},
     "mark": {"type": "rule", "strokeWidth": 0.8},
     "encoding": {"x": {"field": "f1", "type": "quantitative"}, "x2": {"field": "f2"}, "y": {"field": "p", "type": "quantitative"}, "color": {"field": "s", "type": "nominal", "legend": null}}
    },
    {
     "data": {"name": "da"},
     "mark": {"type": "point", "filled": true, "size": 14, "opacity": 1},
     "encoding": {"x": {"field": "f2", "type": "quantitative"}, "y": {"field": "p", "type": "quantitative"}, "color": {"field": "s", "type": "nominal", "legend": null}, "shape": {"field": "t", "type": "nominal", "scale": {"domain": ["f₁", "f₂", "f₃"], "range": ["triangle-left", "triangle-left", "triangle-right"]}, "legend": null}}
    },
    {
     "data": {"name": "da"},
     "mark": {"type": "text", "fontStyle": "italic", "fontSize": 8, "align": "center", "baseline": "middle"},
     "encoding": {"x": {"field": "fl", "type": "quantitative"}, "y": {"field": "p", "type": "quantitative"}, "text": {"field": "t"}, "color": {"field": "s", "type": "nominal", "legend": null}}
    }
   ]
  },
  {
   "title": {"text": "e", "dx": -37, "dy": 10, "offset": 0},
   "width": 188, "height": 140,
   "layer": [
    {
     "data": {"name": "e"},
     "mark": {"type": "line", "strokeWidth": 1.2},
     "encoding": {
      "x": {"field": "v", "type": "quantitative", "scale": {"domain": [-0.054, 1.029], "nice": false, "zero": false}, "axis": {"values": [0, 0.2, 0.4, 0.6, 0.8, 1], "format": ".1f", "title": "Potential (V)"}},
      "y": {"field": "j", "type": "quantitative", "scale": {"domain": [-30.3, 30], "nice": false, "zero": false}, "axis": {"values": [-30, -15, 0, 15, 30], "title": "Current density (A g⁻¹)"}},
      "color": {"field": "s", "type": "nominal", "scale": {"domain": ["5 mV s⁻¹", "10 mV s⁻¹", "20 mV s⁻¹", "50 mV s⁻¹", "75 mV s⁻¹", "100 mV s⁻¹"], "range": ["#e4387c", "#2c2b7e", "#8e8e3c", "#f08a24", "#2e8b4f", "#7a5bb3"]}, "legend": {"orient": "none", "legendX": 80, "legendY": 101, "columns": 2, "columnPadding": 12, "title": null, "symbolType": "stroke", "symbolSize": 80, "labelFontSize": 7, "rowPadding": 3}},
      "order": {"field": "o"}
     }
    },
    {
     "data": {"values": [{}]},
     "mark": {"type": "point", "opacity": 0},
     "encoding": {"y": {"datum": 0, "type": "quantitative", "scale": {"domain": [-65, 50], "nice": false, "zero": false}, "axis": {"orient": "right", "values": [-50, -25, 0, 25, 50], "title": "Current density(mA cm⁻²)", "titleAngle": -90, "titleBaseline": "top"}}}
    }
   ],
   "resolve": {"scale": {"y": "independent"}}
  },
  {
   "title": {"text": "f", "dx": -30, "dy": 10, "offset": 0},
   "width": 195, "height": 140,
   "data": {"name": "f"},
   "mark": {"type": "line", "strokeWidth": 1.2},
   "encoding": {
    "x": {"field": "t", "type": "quantitative", "scale": {"domain": [-65, 2060], "nice": false, "zero": false}, "axis": {"values": [0, 500, 1000, 1500, 2000], "format": "d", "title": "Time (s)"}},
    "y": {"field": "v", "type": "quantitative", "scale": {"domain": [-0.055, 1.04], "nice": false, "zero": false}, "axis": {"values": [0, 0.2, 0.4, 0.6, 0.8, 1], "format": ".1f", "title": "Potential (V)"}},
    "color": {"field": "s", "type": "nominal", "scale": {"domain": ["0.5 A g⁻¹ (1.25 mA cm⁻²)", "1 A g⁻¹ (2.5 mA cm⁻²)", "2 A g⁻¹ (5 mA cm⁻²)", "5 A g⁻¹ (12.5 mA cm⁻²)", "7 A g⁻¹ (17.5 mA cm⁻²)", "10 A g⁻¹ (25 mA cm⁻²)"], "range": ["#e4387c", "#2c2b7e", "#8e8e3c", "#f08a24", "#2e8b4f", "#7a5bb3"]}, "legend": {"orient": "none", "legendX": 77, "legendY": 10, "title": null, "symbolType": "stroke", "symbolSize": 80, "labelFontSize": 6.5, "rowPadding": 5}},
    "order": {"field": "o"}
   }
  },
  {
   "title": {"text": "g", "dx": -34, "dy": 10, "offset": 0},
   "width": 195, "height": 142,
   "layer": [
    {
     "layer": [
      {
       "data": {"name": "g1"},
       "mark": {"type": "circle", "size": 40, "color": "#e4387c", "opacity": 1},
       "encoding": {
        "x": {"field": "cd", "type": "quantitative", "scale": {"domain": [-0.85, 27.7], "nice": false, "zero": false}, "axis": {"values": [0, 5, 10, 15, 20, 25], "title": "Current density (mA cm⁻²)"}},
        "y": {"field": "c", "type": "quantitative", "scale": {"domain": [0, 400], "nice": false}, "axis": {"values": [0, 100, 200, 300, 400], "title": "Gravimetric capacitance (F g⁻¹)"}}
       }
      },
      {
       "data": {"name": "ga"},
       "mark": {"type": "rule", "strokeWidth": 1.2},
       "encoding": {"x": {"field": "x1", "type": "quantitative"}, "x2": {"field": "x2"}, "y": {"field": "y", "type": "quantitative"}, "color": {"field": "k", "type": "nominal", "scale": {"domain": ["grav", "areal"], "range": ["#e4387c", "#2c2b7e"]}, "legend": null}}
      },
      {
       "data": {"name": "ga"},
       "mark": {"type": "point", "filled": true, "size": 30, "opacity": 1},
       "encoding": {"x": {"field": "x1", "type": "quantitative"}, "y": {"field": "y", "type": "quantitative"}, "color": {"field": "k", "type": "nominal", "legend": null}, "shape": {"field": "k", "type": "nominal", "scale": {"domain": ["grav", "areal"], "range": ["triangle-left", "triangle-right"]}, "legend": null}}
      }
     ]
    },
    {
     "data": {"name": "g2"},
     "mark": {"type": "point", "shape": "triangle-up", "filled": true, "size": 50, "color": "#2c2b7e", "opacity": 1},
     "encoding": {
      "x": {"field": "cd", "type": "quantitative"},
      "y": {"field": "a", "type": "quantitative", "scale": {"domain": [0, 750], "nice": false}, "axis": {"orient": "right", "values": [0, 250, 500, 750], "title": "Areal capacitance (mF cm⁻²)", "titleAngle": -90, "titleBaseline": "top"}}
     }
    }
   ],
   "resolve": {"scale": {"y": "independent"}}
  },
  {
   "title": {"text": "h", "dx": -37, "dy": 10, "offset": 0},
   "width": 192, "height": 142,
   "view": {"stroke": null},
   "layer": [
    {
     "data": {"values": [{}]},
     "mark": {"type": "point", "shape": "M -1 0 C -1 -0.1138 -0.5523 -0.206 0 -0.206 C 0.5523 -0.206 1 -0.1138 1 0 C 1 0.1138 0.5523 0.206 0 0.206 C -0.5523 0.206 -1 0.1138 -1 0 Z", "filled": true, "fill": "#c8d5ea", "opacity": 1, "strokeWidth": 0, "size": 11406, "angle": 23},
     "encoding": {
      "x": {"datum": 1094, "type": "quantitative", "scale": {"type": "log", "domain": [10, 11200], "nice": false}, "axis": {"values": [10, 100, 1000, 10000], "format": ",", "title": "Power density (W kg⁻¹)", "domain": true, "domainColor": "#333"}},
      "y": {"datum": 29.4, "type": "quantitative", "scale": {"type": "log", "domain": [8, 40], "nice": false}, "axis": {"values": [10, 20, 30, 40], "format": "d", "title": "Energy density (W h kg⁻¹)", "domain": true, "domainColor": "#333"}}
     }
    },
    {
     "data": {"name": "h"},
     "mark": {"type": "line", "strokeWidth": 1},
     "encoding": {"x": {"field": "p", "type": "quantitative"}, "y": {"field": "e", "type": "quantitative"}, "color": {"field": "s", "type": "nominal", "scale": {"domain": ["APPH-2", "PVA/PANI gel", "PVA-PANI gel", "PANI-GO fiber gel", "PANI-grafted PVA gel", "SWCNT/PANI foam"], "range": ["#e4387c", "#2e8b4f", "#2c2b7e", "#f08a24", "#8e8e3c", "#7a5bb3"]}, "legend": null}}
    },
    {
     "data": {"name": "h"},
     "mark": {"type": "circle", "size": 34, "opacity": 1},
     "encoding": {"x": {"field": "p", "type": "quantitative"}, "y": {"field": "e", "type": "quantitative"}, "color": {"field": "s", "type": "nominal", "legend": null}}
    },
    {
     "data": {"name": "hl"},
     "mark": {"type": "text", "fontSize": 6.5, "align": "center", "baseline": "middle"},
     "encoding": {"x": {"field": "p", "type": "quantitative"}, "y": {"field": "e", "type": "quantitative"}, "text": {"field": "s"}, "color": {"field": "s", "type": "nominal", "legend": null}}
    }
   ]
  },
  {
   "title": {"text": "i", "dx": -33, "dy": 10, "offset": 0},
   "width": 194, "height": 142,
   "layer": [
    {
     "data": {"name": "i"},
     "layer": [
      {
       "mark": {"type": "line", "color": "#2c2b7e", "strokeWidth": 1},
       "encoding": {
        "x": {"field": "n", "type": "quantitative", "scale": {"type": "log", "domain": [7.86, 8450], "nice": false}, "axis": {"values": [10, 100, 1000, 6000], "format": "d", "title": "Cycle number"}},
        "y": {"field": "r", "type": "quantitative", "scale": {"domain": [0, 105], "nice": false}, "axis": {"values": [0, 20, 40, 60, 80, 100], "title": "Capacitance retention (%)"}}
       }
      },
      {
       "mark": {"type": "circle", "color": "#2c2b7e", "size": 45, "opacity": 1},
       "encoding": {"x": {"field": "n", "type": "quantitative"}, "y": {"field": "r", "type": "quantitative"}}
      }
     ]
    },
    {
     "layer": [
      {
       "data": {"values": [{}]},
       "mark": {"type": "rect", "fill": "white", "stroke": "#444", "strokeWidth": 0.8},
       "encoding": {
        "x": {"datum": -0.48, "type": "quantitative", "scale": {"domain": [-1.738, 8.18], "nice": false, "zero": false}, "axis": {"orient": "bottom", "offset": -24.7, "labels": false, "ticks": false, "title": "Cycle number", "titleFontSize": 7.5, "titlePadding": 9}},
        "x2": {"datum": 6.28},
        "y": {"datum": -0.068, "type": "quantitative", "scale": {"domain": [-0.366, 1.351], "nice": false, "zero": false}, "axis": {"orient": "left", "offset": -24.7, "labels": false, "ticks": false, "title": "Potential (V)", "titleFontSize": 7, "titlePadding": 13}},
        "y2": {"datum": 1.07}
       }
      },
      {
       "data": {"name": "ixt"},
       "transform": [{"calculate": "datum.c > 100 ? datum.c - 5994 : datum.c", "as": "pos"}],
       "mark": {"type": "text", "fontSize": 6.5, "baseline": "top", "dy": 3, "color": "#333"},
       "encoding": {"x": {"field": "pos", "type": "quantitative"}, "y": {"datum": -0.068, "type": "quantitative"}, "text": {"field": "c", "type": "quantitative", "format": "d"}}
      },
      {
       "data": {"name": "ixt"},
       "transform": [{"calculate": "datum.c > 100 ? datum.c - 5994 : datum.c", "as": "pos"}],
       "mark": {"type": "tick", "orient": "vertical", "size": 3, "thickness": 0.8, "color": "#444", "yOffset": -1.5},
       "encoding": {"x": {"field": "pos", "type": "quantitative"}, "y": {"datum": -0.068, "type": "quantitative"}}
      },
      {
       "data": {"name": "iyt"},
       "mark": {"type": "text", "fontSize": 6.5, "align": "right", "baseline": "middle", "dx": -2, "color": "#333"},
       "encoding": {"x": {"datum": -0.48, "type": "quantitative"}, "y": {"field": "v", "type": "quantitative"}, "text": {"field": "v", "type": "quantitative", "format": ".1f"}}
      },
      {
       "data": {"name": "iyt"},
       "mark": {"type": "tick", "orient": "horizontal", "size": 3, "thickness": 0.8, "color": "#444", "xOffset": 1.5},
       "encoding": {"x": {"datum": -0.48, "type": "quantitative"}, "y": {"field": "v", "type": "quantitative"}}
      },
      {
       "data": {"name": "ii"},
       "transform": [{"calculate": "datum.c > 100 ? datum.c - 5994 : datum.c", "as": "pos"}],
       "mark": {"type": "line", "color": "#e4387c", "strokeWidth": 0.9},
       "encoding": {"x": {"field": "pos", "type": "quantitative"}, "y": {"field": "v", "type": "quantitative"}}
      },
      {
       "data": {"values": [{}]},
       "mark": {"type": "text", "text": "//", "fontSize": 7, "color": "#333"},
       "encoding": {"x": {"datum": 2.85, "type": "quantitative"}, "y": {"datum": 1.07, "type": "quantitative"}}
      },
      {
       "data": {"values": [{}]},
       "mark": {"type": "text", "text": "//", "fontSize": 7, "color": "#333"},
       "encoding": {"x": {"datum": 2.85, "type": "quantitative"}, "y": {"datum": -0.068, "type": "quantitative"}}
      }
     ]
    }
   ],
   "resolve": {"scale": {"x": "independent", "y": "independent"}}
  }
]
}
